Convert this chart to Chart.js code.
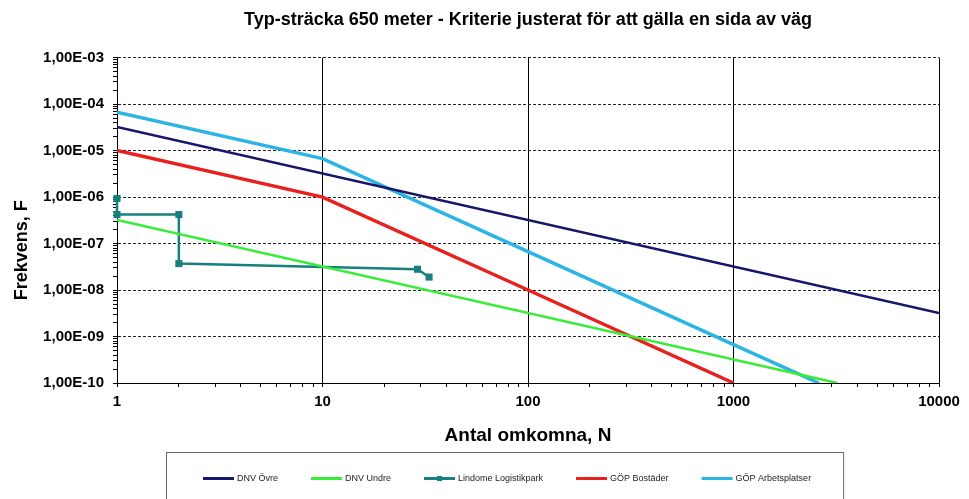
<!DOCTYPE html>
<html>
<head>
<meta charset="utf-8">
<script src="https://cdn.jsdelivr.net/npm/chart.js@4.4.1/dist/chart.umd.min.js"></script>
<style>
  html, body { margin: 0; padding: 0; background: #fff; }
  #wrap { width: 969px; height: 499px; }
</style>
</head>
<body>
<div id="wrap"><canvas id="fn"></canvas></div>
<script>
// axis decades (major ticks)
const xDecades = [1, 10, 100, 1000, 10000];
const yDecades = [1e-10, 1e-9, 1e-8, 1e-7, 1e-6, 1e-5, 1e-4, 1e-3];

// series, N (antal omkomna) and F (frekvens)
const dnvOvreN = [1, 10000];
const dnvOvreF = [3.2e-5, 3.2e-9];
const dnvUndreN = [1, 3200];
const dnvUndreF = [3.2e-7, 1e-10];
const lindomeN = [1, 1, 2, 2, 29, 33];
const lindomeF = [9.3e-7, 4.2e-7, 4.2e-7, 3.7e-8, 2.8e-8, 1.9e-8];
const bostaderN = [1, 10, 100, 1000];
const bostaderF = [1e-5, 1e-6, 1e-8, 1e-10];
const arbetsN = [1, 10, 100, 1000, 2600];
const arbetsF = [6.7e-5, 6.7e-6, 6.7e-8, 6.7e-10, 1e-10];

const FONT = "'Liberation Sans', Arial, sans-serif";

function pts(xs, ys) {
  return xs.map((x, i) => ({ x, y: ys[i] }));
}

function logTicks(decades) {
  const out = [];
  decades.forEach((d, i) => {
    if (i === decades.length - 1) {
      out.push({ value: d, major: true });
      return;
    }
    for (let m = 1; m <= 9; m++) out.push({ value: d * m, major: m === 1 });
  });
  return out;
}

function sciLabel(v) {
  const e = Math.round(Math.log10(v));
  return '1,00E' + (e < 0 ? '-' : '+') + String(Math.abs(e)).padStart(2, '0');
}

// boxed legend under the x axis title
const boxLegend = {
  id: 'boxLegend',
  afterDraw(chart) {
    const ctx = chart.ctx;
    const sets = chart.data.datasets;
    const sample = 31, gap = 3, spacing = 33;
    const y = 478.5;
    ctx.save();
    ctx.font = '9px ' + FONT;
    const widths = sets.map(d => ctx.measureText(d.label).width);
    const total = widths.reduce((a, w) => a + sample + gap + w, 0) + spacing * (sets.length - 1);
    let x = Math.round((chart.width + 46) / 2 - total / 2);

    ctx.strokeStyle = '#666';
    ctx.lineWidth = 1;
    ctx.strokeRect(x - 36.5, 452.5, total + 36 + 33, 60);

    ctx.textBaseline = 'middle';
    ctx.textAlign = 'left';
    sets.forEach((d, i) => {
      ctx.fillStyle = d.borderColor;
      ctx.fillRect(x, y - 1.5, sample, 3);
      if (d.pointRadius > 0) ctx.fillRect(x + sample / 2 - 2.5, y - 2.5, 5, 5);
      ctx.fillStyle = '#222';
      ctx.fillText(d.label, x + sample + gap, y);
      x += sample + gap + widths[i] + spacing;
    });
    ctx.restore();
  }
};

const ds = (label, data, color, width, extra) => Object.assign({
  label, data,
  borderColor: color,
  backgroundColor: color,
  borderWidth: width,
  pointRadius: 0,
  tension: 0
}, extra || {});

new Chart(document.getElementById('fn'), {
  type: 'line',
  data: {
    datasets: [
      ds('DNV Övre', pts(dnvOvreN, dnvOvreF), '#16166a', 2.5),
      ds('DNV Undre', pts(dnvUndreN, dnvUndreF), '#38ec38', 2.5),
      ds('Lindome Logistikpark', pts(lindomeN, lindomeF), '#17807e', 2.5,
        { pointRadius: 5, pointStyle: 'rect', pointBorderWidth: 0, clip: false }),
      ds('GÖP Bostäder', pts(bostaderN, bostaderF), '#e8201e', 3.5),
      ds('GÖP Arbetsplatser', pts(arbetsN, arbetsF), '#2bb4e4', 3.5)
    ]
  },
  options: {
    responsive: true,
    maintainAspectRatio: false,
    animation: false,
    layout: { padding: { left: 0, right: 30, top: 1, bottom: 37 } },
    plugins: {
      title: {
        display: true,
        text: 'Typ-sträcka 650 meter - Kriterie justerat för att gälla en sida av väg',
        color: '#000',
        fullSize: false,
        font: { family: FONT, size: 18, weight: 'bold' },
        padding: { top: 8, bottom: 27 }
      },
      legend: { display: false },
      tooltip: { enabled: false }
    },
    scales: {
      x: {
        type: 'logarithmic',
        min: 1,
        max: 10000,
        afterBuildTicks: s => { s.ticks = logTicks(xDecades); },
        afterFit: s => { s.height = 79; },
        border: { color: '#000', width: 1 },
        grid: {
          color: c => (c.tick && c.tick.major ? '#000' : 'rgba(0,0,0,0)'),
          tickColor: '#000',
          tickLength: 4,
          lineWidth: 1
        },
        ticks: {
          autoSkip: false,
          maxRotation: 0,
          padding: 6,
          color: '#000',
          font: { family: FONT, size: 15, weight: 'bold' },
          callback: (v, i, t) => (t[i].major ? String(v) : '')
        },
        title: {
          display: true,
          text: 'Antal omkomna, N',
          color: '#000',
          font: { family: FONT, size: 19, weight: 'bold' },
          padding: { top: 0, bottom: 15 }
        }
      },
      y: {
        type: 'logarithmic',
        min: 1e-10,
        max: 1e-3,
        afterBuildTicks: s => { s.ticks = logTicks(yDecades); },
        afterFit: s => { s.width = 117; },
        border: { color: '#000', width: 1, dash: [3, 2] },
        grid: {
          color: c => (c.tick && c.tick.major ? '#222' : 'rgba(0,0,0,0)'),
          tickColor: '#000',
          tickLength: 4,
          lineWidth: 1
        },
        ticks: {
          autoSkip: false,
          padding: 9,
          color: '#000',
          font: { family: FONT, size: 15, weight: 'bold' },
          callback: (v, i, t) => (t[i].major ? sciLabel(v) : '')
        },
        title: {
          display: true,
          // trailing spaces move the rotated title down, as in the original
          text: 'Frekvens, F' + '\u00a0'.repeat(12),
          color: '#000',
          font: { family: FONT, size: 18, weight: 'bold' },
          padding: { top: 11, bottom: 0 }
        }
      }
    }
  },
  plugins: [boxLegend]
});
</script>
</body>
</html>
